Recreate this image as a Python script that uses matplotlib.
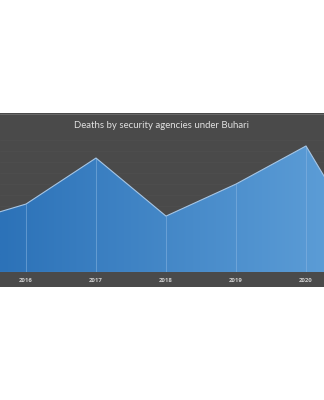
import numpy as np
import matplotlib
matplotlib.use("Agg")
import matplotlib.pyplot as plt
from matplotlib.patches import Rectangle

# yearly totals
years = [2015, 2016, 2017, 2018, 2019, 2020, 2021]
deaths = [172, 248, 416, 204, 321, 460, 33]
tick_years = [2016, 2017, 2018, 2019, 2020]
title = "Deaths by security agencies under Buhari"

bg = "#4a4a4a"

fig = plt.figure(figsize=(3.24, 4.0), dpi=100)
fig.patch.set_facecolor("white")

# dark panel behind the chart
fig.add_artist(Rectangle((0, 1 - 287 / 400), 1, (287 - 113) / 400,
                         transform=fig.transFigure, facecolor=bg,
                         edgecolor="none", zorder=0))
fig.add_artist(plt.Line2D([0, 1], [1 - 113.5 / 400] * 2, transform=fig.transFigure,
                          color="#6e6e6e", lw=0.6, zorder=1))

ax = fig.add_axes([0, 1 - 272 / 400, 1, 137 / 400])
ax.set_facecolor("none")
x0 = 2016 - 26 / 70
x1 = 2016 + 298 / 70
ax.set_xlim(x0, x1)
ax.set_ylim(0, 500)

for g in np.arange(40, 500, 40):
    ax.axhline(g, color="#4f4f4f", lw=0.5, zorder=1)

# area with horizontal gradient
poly = ax.fill_between(years, deaths, 0, color="none", lw=0, zorder=2)
grad = np.linspace(0, 1, 256).reshape(1, -1)
cmap = matplotlib.colors.LinearSegmentedColormap.from_list("b", ["#2c72b8", "#5b9cd6"])
img = ax.imshow(grad, extent=[x0, x1, 0, 500], aspect="auto", cmap=cmap,
                origin="lower", zorder=2)
img.set_clip_path(poly.get_paths()[0], transform=ax.transData)

ax.plot(years, deaths, color="#a6c6e6", lw=0.8, zorder=4)
ax.vlines(years, 0, deaths, color="#8db8e3", lw=0.6, alpha=0.6, zorder=3)
ax.axhline(0, color="#86a3bf", lw=0.8, zorder=4)

for s in ax.spines.values():
    s.set_visible(False)
ax.set_yticks([])
ax.set_xticks(tick_years)
ax.set_xticklabels([str(t) for t in tick_years], fontsize=4.3, color="#d0d0d0",
                   fontweight="bold", family="Open Sans")
ax.tick_params(axis="x", length=0, pad=4)

fig.text(0.5, 1 - 125 / 400, title, ha="center", va="center", fontsize=6.9,
         color="#e0e0e0", family="Lato")

fig.savefig("out.png", dpi=100)
